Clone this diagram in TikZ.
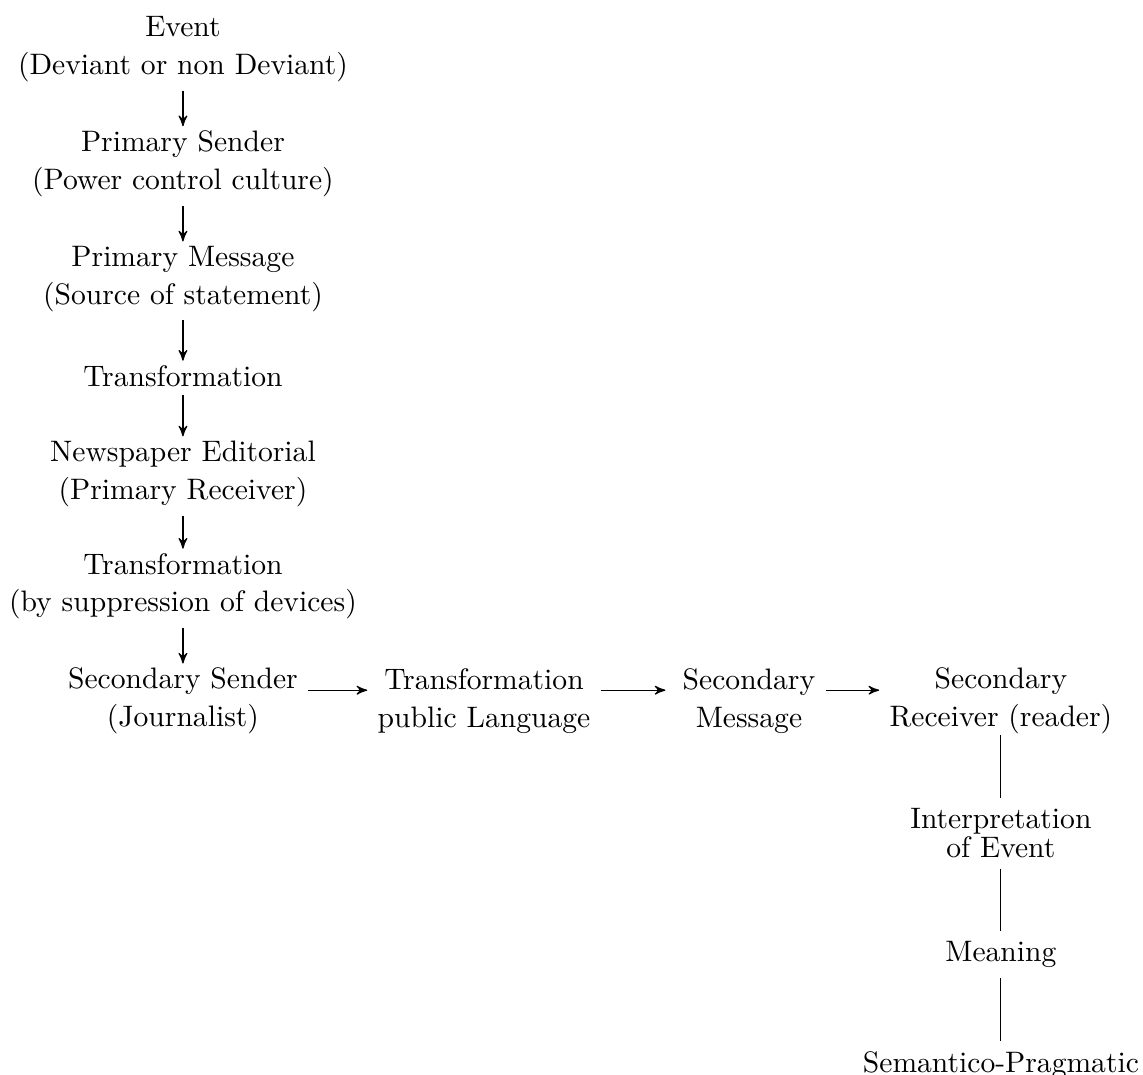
\documentclass[tikz,border=0pt]{standalone}
\usepackage{tikz}
\usetikzlibrary{positioning, arrows}
\tikzset{
->, % connectors are directed
>=stealth', % small filled heads
node distance=38.8pt, % centre to centre, two-line boxes
every node/.style={align=center, font=\fontsize{10}{12.8}\selectfont},
line width=0.7pt,
tight/.style={font=\fontsize{10}{9.8}\selectfont}, % closer lines
down/.style={shorten <=-0.5pt, shorten >=-2pt}, % long vertical arrows
}

\begin{document}
\begin{tikzpicture}
    \useasboundingbox (-61.8pt,16.55pt) rectangle (324.3pt,-346.25pt);
    % left column
    \node (event) {Event\\(Deviant or non Deviant)};
    \node[below of=event] (psender) {Primary Sender\\(Power control culture)};
    \node[below of=psender] (pmessage) {Primary Message\\(Source of statement)};
    \node[below of=pmessage, node distance=32.8pt] (trans1) {Transformation};
    \node[below of=trans1, node distance=33.1pt] (editorial) {Newspaper Editorial\\(Primary Receiver)};
    \node[below of=editorial, node distance=38pt] (trans2) {Transformation\\(by suppression of devices)};
    \node[below of=trans2] (ssender) {Secondary Sender\\(Journalist)};
    % bottom row
    \node[right of=ssender, node distance=101.7pt] (publang) {Transformation\\public Language};
    \node[right of=publang, node distance=89.5pt] (smessage) {Secondary\\Message};
    \node[right of=smessage, node distance=85.1pt] (sreceiver) {Secondary\\Receiver (reader)};
    % right column
    \node[tight, below of=sreceiver, node distance=44.65pt] (interp) {Interpretation\\of Event};
    \node[below of=interp, node distance=41pt] (meaning) {Meaning};
    \node[below of=meaning, node distance=37.2pt] (semprag) {Semantico-Pragmatic};

    \draw[down] (event) -- (psender);
    \draw[down] (psender) -- (pmessage);
    \draw[down] (pmessage) -- (trans1);
    \draw[down] (trans1) -- (editorial);
    \draw[down] (editorial) -- (trans2);
    \draw[down] (trans2) -- (ssender);
    \draw ([yshift=3.7pt]ssender.east) -- ([yshift=3.7pt]publang.west);
    \draw[shorten >=2.3pt] ([yshift=3.7pt]publang.east) -- ([yshift=3.7pt]smessage.west);
    \draw ([yshift=3.7pt]smessage.east) -- ([yshift=3.7pt]sreceiver.west);
    \draw[-, shorten <=-3.2pt] (sreceiver) -- (interp);
    \draw[-] (interp) -- (meaning);
    \draw[-] (meaning) -- (semprag);
\end{tikzpicture}
\end{document}
